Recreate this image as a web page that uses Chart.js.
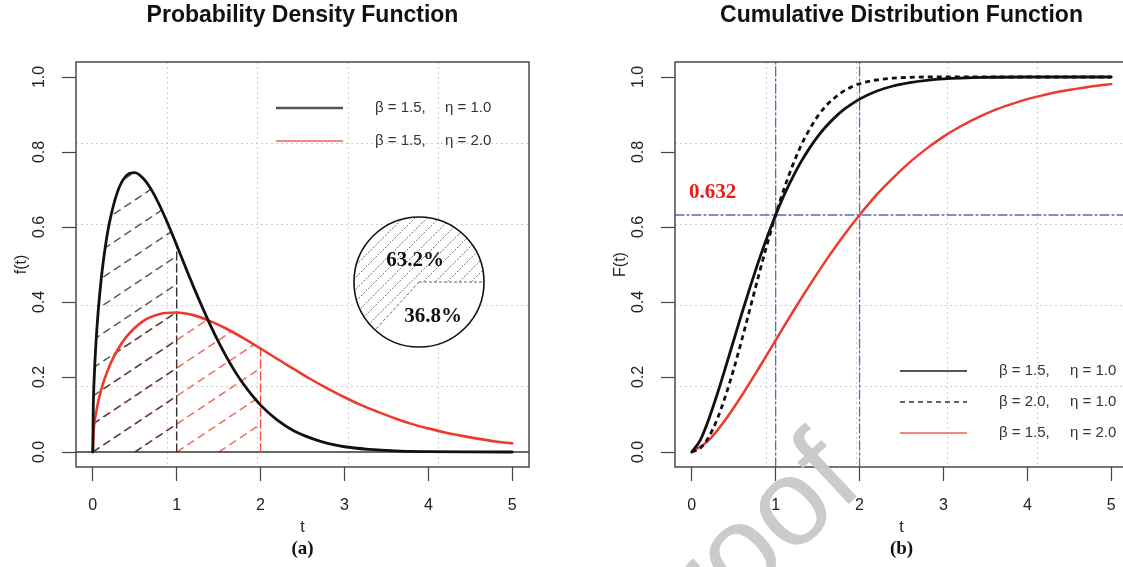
<!DOCTYPE html>
<html><head><meta charset="utf-8">
<script src="https://cdn.jsdelivr.net/npm/chart.js@4.4.1/dist/chart.umd.min.js"></script>
<style>
html,body{margin:0;padding:0;background:#fff;overflow:hidden;}
#wrap{position:relative;width:1123px;height:567px;overflow:hidden;background:#fff;}
#cL{position:absolute;left:0;top:0;}
#cR{position:absolute;left:560px;top:0;}
#cP{position:absolute;left:349px;top:212px;}
</style></head><body>
<div id="wrap">
<canvas id="cL" width="560" height="567"></canvas>
<canvas id="cR" width="600" height="567"></canvas>
<canvas id="cP" width="140" height="140"></canvas>
</div>
<script>
// ---------- data ----------
const xTicks = [0, 1, 2, 3, 4, 5];
const yTicks = [0, 0.2, 0.4, 0.6, 0.8, 1.0];
const yTickLabels = ['0.0', '0.2', '0.4', '0.6', '0.8', '1.0'];
const gridX = [0.88, 1.96, 3.04, 4.12];
const gridY = [0.176, 0.392, 0.608, 0.824];

// PDF, beta=1.5, eta=1.0 (black)
const tPdfB = [0,0.005,0.02,0.05,0.1,0.15,0.2,0.3,0.4,0.5,0.6,0.7,0.8,0.9,1.0,1.1,1.2,1.3,1.4,1.5,1.6,1.7,1.8,1.9,2.0,2.2,2.4,2.6,2.8,3.0,3.3,3.6,4.0,4.5,5.0];
const pdfB  = [0,0.106,0.212,0.332,0.460,0.548,0.613,0.697,0.737,0.745,0.730,0.699,0.656,0.606,0.552,0.496,0.441,0.389,0.339,0.293,0.251,0.213,0.180,0.151,0.125,0.085,0.056,0.037,0.023,0.014,0.007,0.003,0.001,0.0002,0.0000];
// PDF, beta=1.5, eta=2.0 (red)
const tPdfR = [0,0.01,0.04,0.1,0.2,0.3,0.4,0.6,0.8,1.0,1.2,1.4,1.6,1.8,2.0,2.2,2.4,2.6,2.8,3.0,3.2,3.4,3.6,3.8,4.0,4.2,4.4,4.6,4.8,5.0];
const pdfR  = [0,0.053,0.106,0.166,0.230,0.274,0.307,0.349,0.368,0.372,0.365,0.349,0.328,0.303,0.276,0.248,0.221,0.194,0.169,0.146,0.125,0.107,0.090,0.075,0.063,0.052,0.043,0.035,0.028,0.023];
const shadeEndB = 1.0;   // hatched interval of black pdf
const shadeEndR = 2.0;   // hatched interval of red pdf
const pdfAtEndB = 0.552;
const pdfAtEndR = 0.276;

// CDFs
const tCdf   = [0,0.1,0.2,0.3,0.4,0.5,0.6,0.7,0.8,0.9,1.0,1.1,1.2,1.3,1.4,1.5,1.6,1.7,1.8,1.9,2.0,2.2,2.4,2.6,2.8,3.0,3.5,4.0,4.5,5.0];
const cdfB15 = [0,0.031,0.086,0.152,0.224,0.298,0.372,0.443,0.511,0.574,0.632,0.685,0.731,0.773,0.809,0.841,0.868,0.891,0.911,0.927,0.941,0.962,0.976,0.985,0.991,0.995,0.999,1.000,1.000,1.000];
const cdfB20 = [0,0.010,0.039,0.086,0.148,0.221,0.302,0.387,0.473,0.555,0.632,0.702,0.763,0.816,0.859,0.895,0.923,0.944,0.961,0.973,0.982,0.992,0.997,0.999,1.000,1.000,1.000,1.000,1.000,1.000];
const tCdfR  = [0,0.2,0.4,0.6,0.8,1.0,1.2,1.4,1.6,1.8,2.0,2.2,2.4,2.6,2.8,3.0,3.2,3.4,3.6,3.8,4.0,4.2,4.4,4.6,4.8,5.0];
const cdfR   = [0,0.031,0.086,0.152,0.224,0.298,0.372,0.443,0.511,0.574,0.632,0.685,0.731,0.773,0.809,0.841,0.868,0.891,0.911,0.927,0.941,0.952,0.962,0.969,0.976,0.981];
const refT = [1, 2];
const refF = 0.632;

const pieLabels = ['36.8%', '63.2%'];
const pieValues = [36.8, 63.2];

const legendPdf = [['β = 1.5,', 'η = 1.0'], ['β = 1.5,', 'η = 2.0']];
const legendCdf = [['β = 1.5,', 'η = 1.0'], ['β = 2.0,', 'η = 1.0'], ['β = 1.5,', 'η = 2.0']];

// ---------- style ----------
const FONT = '"Liberation Sans", Arial, Helvetica, sans-serif';
const SERIF = '"Liberation Serif", "Times New Roman", serif';
const RED = '#ee3a2b';
const BLUE = '#5b68bd';
Chart.defaults.font.family = FONT;

const pts = (ts, ys) => ts.map((t, i) => ({x: t, y: ys[i]}));

function makeHatch(color, W, H, dash, lw, bg) {
  const c = document.createElement('canvas');
  c.width = W; c.height = H;
  const g = c.getContext('2d');
  if (bg) { g.fillStyle = bg; g.fillRect(0, 0, W, H); }
  g.strokeStyle = color; g.lineWidth = lw; g.setLineDash(dash);
  for (const k of [-1, 0, 1]) {
    g.beginPath(); g.moveTo(-W, 2 * H + k * H); g.lineTo(2 * W, -H + k * H); g.stroke();
  }
  return g.createPattern(c, 'repeat');
}
const Lh = Math.hypot(42, 28) / 4;
const hatchB = makeHatch('#3a3a3a', 42, 28, [Lh * 0.64, Lh * 0.36], 1.4);
const hatchR = makeHatch('#f0503c', 42, 28, [Lh * 0.64, Lh * 0.36], 1.4);
const Lp = Math.hypot(12, 12) / 5;
const hatchP = makeHatch('#7a7a7a', 12, 12, [Lp * 0.6, Lp * 0.4], 1, '#ffffff');

function xScale() {
  return {
    type: 'linear', min: -0.2, max: 5.2,
    afterBuildTicks: s => { s.ticks = xTicks.map(v => ({value: v})); },
    afterFit: s => { s.height = 100; },
    grid: {drawOnChartArea: false, drawTicks: true, tickLength: 14, tickColor: '#444', tickWidth: 1.2},
    border: {display: false},
    ticks: {font: {size: 16}, color: '#222', padding: 15, maxRotation: 0, autoSkip: false,
            callback: v => String(v)}
  };
}
function yScale(w) {
  return {
    type: 'linear', min: -0.04, max: 1.04,
    afterBuildTicks: s => { s.ticks = yTicks.map(v => ({value: v})); },
    afterFit: s => { s.width = w; },
    grid: {drawOnChartArea: false, drawTicks: true, tickLength: 14, tickColor: '#444', tickWidth: 1.2},
    border: {display: false},
    ticks: {display: false}
  };
}

function line(ctx, x1, y1, x2, y2) { ctx.beginPath(); ctx.moveTo(x1, y1); ctx.lineTo(x2, y2); ctx.stroke(); }

function decoPlugin(o) {
  return {
    id: 'deco' + o.id,
    beforeDraw(chart) {
      const {ctx, chartArea: a, scales: {x, y}} = chart;
      ctx.save();
      ctx.strokeStyle = '#cfcfcf'; ctx.lineWidth = 1; ctx.setLineDash([2, 3]);
      gridX.forEach(v => { const p = Math.round(x.getPixelForValue(v)) + 0.5; line(ctx, p, a.top, p, a.bottom); });
      gridY.forEach(v => { const p = Math.round(y.getPixelForValue(v)) + 0.5; line(ctx, a.left, p, a.right, p); });
      ctx.restore();
      if (o.patterns) {
        const ox = x.getPixelForValue(0), oy = y.getPixelForValue(0);
        o.patterns.forEach(p => p.setTransform(new DOMMatrix([1, 0, 0, 1, ox, oy])));
      }
    },
    afterDraw(chart) {
      const {ctx, chartArea: a, scales: {x, y}} = chart;
      const cx = (a.left + a.right) / 2, cy = (a.top + a.bottom) / 2;
      ctx.save();
      // box
      ctx.strokeStyle = '#4a4a4a'; ctx.lineWidth = 1.5;
      ctx.strokeRect(a.left, a.top, a.right - a.left, a.bottom - a.top);
      // y tick labels (rotated)
      ctx.fillStyle = '#222'; ctx.font = '16px ' + FONT; ctx.textAlign = 'center'; ctx.textBaseline = 'middle';
      yTicks.forEach((v, i) => {
        ctx.save(); ctx.translate(a.left - 36, y.getPixelForValue(v)); ctx.rotate(-Math.PI / 2);
        ctx.fillText(yTickLabels[i], 0, 0); ctx.restore();
      });
      // axis titles
      ctx.fillText('t', cx, 528);
      ctx.save(); ctx.translate(a.left - 54, cy); ctx.rotate(-Math.PI / 2); ctx.fillText(o.ylab, 0, 0); ctx.restore();
      ctx.fillStyle = '#111';
      ctx.font = 'bold 19px ' + SERIF; ctx.fillText(o.sub, cx, 549);
      // title
      ctx.font = 'bold 23px ' + FONT; ctx.fillText(o.title, cx, 16);
      // legend
      o.legend.forEach(L => {
        const ly = L.y;
        ctx.save(); ctx.strokeStyle = L.color; ctx.lineWidth = L.lw; ctx.setLineDash(L.dash || []);
        line(ctx, L.x1, ly, L.x2, ly); ctx.restore();
        ctx.fillStyle = '#333'; ctx.font = '15px ' + FONT; ctx.textAlign = 'left';
        ctx.fillText(L.text[0], L.tx1, ly); ctx.fillText(L.text[1], L.tx2, ly);
      });
      if (o.extra) o.extra(chart);
      ctx.restore();
    }
  };
}

const common = {
  responsive: false, animation: false, events: [],
  plugins: {legend: {display: false}, tooltip: {enabled: false}, filler: {drawTime: 'beforeDatasetsDraw'}},
  elements: {point: {radius: 0}, line: {cubicInterpolationMode: 'monotone', borderCapStyle: 'round'}}
};
const straight = {cubicInterpolationMode: 'default', tension: 0};

// ---------- left: PDF ----------
new Chart(document.getElementById('cL'), {
  type: 'line',
  data: {datasets: [
    Object.assign({data: [{x: -0.2, y: 0}, {x: 5.2, y: 0}], borderColor: '#333', borderWidth: 1.3, order: 10}, straight),
    Object.assign({data: [{x: shadeEndB, y: 0}, {x: shadeEndB, y: pdfAtEndB}], borderColor: '#333', borderWidth: 1.4, borderDash: [8, 4], order: 5}, straight),
    Object.assign({data: [{x: shadeEndR, y: 0}, {x: shadeEndR, y: pdfAtEndR}], borderColor: '#f0503c', borderWidth: 1.4, borderDash: [8, 4], order: 5}, straight),
    {data: pts(tPdfR, pdfR), borderColor: RED, borderWidth: 2.6, fill: 'origin', backgroundColor: 'transparent',
     segment: {backgroundColor: c => tPdfR[c.p1DataIndex] <= shadeEndR + 1e-6 ? hatchR : 'transparent'}, order: 3},
    {data: pts(tPdfB, pdfB), borderColor: '#111', borderWidth: 2.8, fill: 'origin', backgroundColor: 'transparent',
     segment: {backgroundColor: c => tPdfB[c.p1DataIndex] <= shadeEndB + 1e-6 ? hatchB : 'transparent'}, order: 2}
  ]},
  options: Object.assign({}, common, {
    layout: {padding: {top: 62, right: 31, left: 0, bottom: 0}},
    scales: {x: xScale(), y: yScale(76)}
  }),
  plugins: [decoPlugin({
    id: 'L', title: 'Probability Density Function', ylab: 'f(t)', sub: '(a)', patterns: [hatchB, hatchR],
    legend: [
      {x1: 276, x2: 343, y: 108, color: '#555', lw: 2.5, text: legendPdf[0], tx1: 375, tx2: 445},
      {x1: 276, x2: 343, y: 141, color: '#f06050', lw: 1.6, text: legendPdf[1], tx1: 375, tx2: 445}
    ]
  })]
});

// ---------- right: CDF ----------
new Chart(document.getElementById('cR'), {
  type: 'line',
  data: {datasets: [
    Object.assign({data: [{x: refT[0], y: -0.04}, {x: refT[0], y: 1.04}], borderColor: BLUE, borderWidth: 1.3, borderDash: [9, 3, 2, 3], order: 10}, straight),
    Object.assign({data: [{x: refT[1], y: -0.04}, {x: refT[1], y: 1.04}], borderColor: BLUE, borderWidth: 1.3, borderDash: [9, 3, 2, 3], order: 10}, straight),
    Object.assign({data: [{x: -0.2, y: refF}, {x: 5.2, y: refF}], borderColor: BLUE, borderWidth: 1.3, borderDash: [9, 3, 2, 3], order: 10}, straight),
    {data: pts(tCdfR, cdfR), borderColor: RED, borderWidth: 2.5, order: 3},
    {data: pts(tCdf, cdfB20), borderColor: '#111', borderWidth: 2.8, borderDash: [5, 4], borderCapStyle: 'butt', order: 2},
    {data: pts(tCdf, cdfB15), borderColor: '#111', borderWidth: 2.8, order: 1}
  ]},
  options: Object.assign({}, common, {
    layout: {padding: {top: 62, right: 32, left: 0, bottom: 0}},
    scales: {x: xScale(), y: yScale(115)}
  }),
  plugins: [decoPlugin({
    id: 'R', title: 'Cumulative Distribution Function', ylab: 'F(t)', sub: '(b)',
    legend: [
      {x1: 340, x2: 407, y: 371, color: '#555', lw: 2, text: legendCdf[0], tx1: 439, tx2: 510},
      {x1: 340, x2: 407, y: 402, color: '#333', lw: 1.3, dash: [5, 4], text: legendCdf[1], tx1: 439, tx2: 510},
      {x1: 340, x2: 407, y: 433, color: '#f06050', lw: 1.6, text: legendCdf[2], tx1: 439, tx2: 510}
    ],
    extra(chart) {
      const ctx = chart.ctx;
      ctx.fillStyle = '#f01a14'; ctx.font = 'bold 21px ' + SERIF; ctx.textAlign = 'left'; ctx.textBaseline = 'middle';
      ctx.fillText(String(refF), 129, 193);
      // watermark
      ctx.save();
      ctx.translate(866 - 560, 488); ctx.rotate(-43 * Math.PI / 180);
      ctx.fillStyle = 'rgba(200,200,200,0.95)'; ctx.font = '124px ' + FONT; ctx.textAlign = 'right'; ctx.textBaseline = 'alphabetic';
      ctx.fillText('Proof', 0, 0);
      ctx.restore();
    }
  })]
});

// ---------- pie inset ----------
new Chart(document.getElementById('cP'), {
  type: 'pie',
  data: {labels: pieLabels, datasets: [{data: pieValues, backgroundColor: ['#ffffff', hatchP], borderWidth: 0}]},
  options: {responsive: false, animation: false, events: [], rotation: 90, layout: {padding: 5},
            plugins: {legend: {display: false}, tooltip: {enabled: false}}},
  plugins: [{
    id: 'pieDeco',
    afterDatasetsDraw(chart) {
      const ctx = chart.ctx;
      const arc = chart.getDatasetMeta(0).data[0];
      const {x, y, outerRadius: r, startAngle: s, endAngle: e} = arc.getProps(['x', 'y', 'outerRadius', 'startAngle', 'endAngle'], true);
      ctx.save();
      ctx.strokeStyle = '#666'; ctx.lineWidth = 1; ctx.setLineDash([3, 2]);
      line(ctx, x, y, x + r * Math.cos(s), y + r * Math.sin(s));
      line(ctx, x, y, x + r * Math.cos(e), y + r * Math.sin(e));
      ctx.setLineDash([]); ctx.strokeStyle = '#111'; ctx.lineWidth = 1.6;
      ctx.beginPath(); ctx.arc(x, y, r, 0, Math.PI * 2); ctx.stroke();
      ctx.fillStyle = '#111'; ctx.font = 'bold 21px ' + SERIF; ctx.textAlign = 'center'; ctx.textBaseline = 'middle';
      ctx.fillText(pieLabels[1], x - 4, y - 21);
      ctx.fillText(pieLabels[0], x + 14, y + 35);
      ctx.restore();
    }
  }]
});
</script>
</body></html>
